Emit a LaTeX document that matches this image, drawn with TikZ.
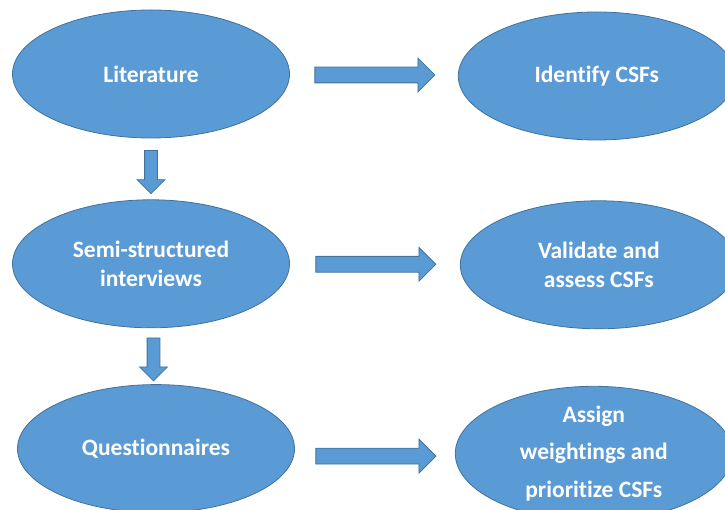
\documentclass[tikz,border=0pt]{standalone}
\usepackage{fontspec}
\setmainfont{Carlito}[Ligatures={NoCommon}]
\usetikzlibrary{shapes.geometric, shapes.arrows, positioning, calc}
\definecolor{stepblue}{HTML}{5B9BD5}
\definecolor{stepedge}{HTML}{41719C}
\tikzstyle{phase}=[ellipse, draw=stepedge, fill=stepblue, text=white, line width=0.8pt, font=\bfseries\fontsize{23.5}{29.5}\selectfont, align=center, minimum width=277pt, minimum height=128pt, inner sep=0pt]
\tikzstyle{rarrow}=[single arrow, draw=stepedge, fill=stepblue, line width=0.8pt, minimum height=120pt, inner xsep=0pt, inner ysep=7.5pt, single arrow head extend=9pt]
\tikzstyle{darrow}=[rarrow, minimum height=43pt, inner ysep=6pt, single arrow head extend=7.5pt, rotate=-90]

\begin{document}
\begin{tikzpicture}[x=1pt, y=-1pt]
    \useasboundingbox (0,0) rectangle (725,510);
    \clip (0,0) rectangle (725,510);
    \node[phase] (lit) at (151,74) {Literature};
    \node[phase, below=61pt of lit] (semi) {Semi-structured\\interviews};
    \node[phase, below=56pt of semi, xshift=5pt] (quest) {Questionnaires};
    \node[phase, right=168pt of lit, yshift=-2pt] (idf) {Identify CSFs};
    \node[phase, right=170pt of semi, yshift=-1pt] (val) {Validate and\\assess CSFs};
    \node[phase, right=160pt of quest, yshift=-5pt, font=\bfseries\fontsize{23.5}{37.5}\selectfont] (asg) {Assign\\weightings and\\prioritize CSFs};

    \node[darrow] (d1) at ($(lit.south)!0.5!(semi.north)$) {};
    \node[darrow] (d2) at ($(semi.south)!0.5!(quest.north)$) {};
    \node[rarrow, xshift=-3pt] (r1) at ($(lit.east)!0.5!(idf.west)$) {};
    \node[rarrow, xshift=-3pt] (r2) at ($(semi.east)!0.5!(val.west)$) {};
    \node[rarrow, xshift=-3pt, yshift=-5pt] (r3) at ($(quest.east)!0.5!(asg.west)$) {};
\end{tikzpicture}
\end{document}
